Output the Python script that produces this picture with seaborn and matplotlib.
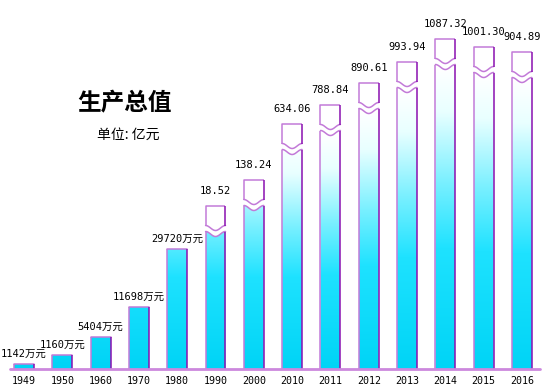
import matplotlib
matplotlib.use("Agg")
import matplotlib.pyplot as plt
import numpy as np
import pandas as pd
import seaborn as sns
from matplotlib.colors import LinearSegmentedColormap
from matplotlib.patches import Polygon

# data
years = ["1949", "1950", "1960", "1970", "1980", "1990", "2000",
         "2010", "2011", "2012", "2013", "2014", "2015", "2016"]
value_labels = ["1142万元", "1160万元", "5404万元", "11698万元", "29720万元",
                "18.52", "138.24", "634.06", "788.84", "890.61", "993.94",
                "1087.32", "1001.30", "904.89"]
# drawn bar heights (display units, the axis is broken so not proportional)
bar_heights = [5, 14, 32, 62, 120, 163, 189, 245, 264, 286, 307, 330, 322, 317]
broken = [False, False, False, False, False,
          True, True, True, True, True, True, True, True, True]

BOX = 22      # height of the white top box of a broken bar
GAP = 6       # gap between the two wavy lines
AMP = 2.5     # wave amplitude
EDGE_L = "#c27ad8"
EDGE_R = "#8a10b0"

sns.set_style("white")
plt.rcParams["font.family"] = ["DejaVu Sans Mono", "Noto Sans CJK SC"]

lower = [h - BOX - GAP if b else h for h, b in zip(bar_heights, broken)]
df = pd.DataFrame({"year": years, "height": lower})

fig = plt.figure(figsize=(5.53, 3.91), dpi=100)
ax = fig.add_axes([0, 22 / 391, 1, 369 / 391])

sns.barplot(data=df, x="year", y="height", order=years, width=0.52,
            color="#00d4f6", ax=ax)

cmap = LinearSegmentedColormap.from_list(
    "cy", [(0.0, "#00d4f6"), (0.4, "#1ee2ff"), (0.62, "#7af0ff"),
           (0.85, "#e8ffff"), (1.0, "#ffffff")])
grad = np.linspace(0, 1, 256).reshape(-1, 1)

t = np.linspace(0, 1, 30)
wave = AMP * np.cos(2 * np.pi * t)


def draw_outline(pts_left, pts_top, pts_right):
    ax.plot(*zip(*pts_left), color=EDGE_L, lw=1.1, zorder=4, solid_capstyle="butt")
    ax.plot(*zip(*pts_top), color=EDGE_L, lw=1.1, zorder=4)
    ax.plot(*zip(*pts_right), color=EDGE_R, lw=1.1, zorder=4, solid_capstyle="butt")


for i, patch in enumerate(list(ax.patches)):
    x0 = patch.get_x()
    w = patch.get_width()
    h = patch.get_height()
    patch.set_visible(False)
    xs = x0 + t * w
    if broken[i]:
        top_y = h + wave
    else:
        top_y = np.full_like(t, h)
    top = list(zip(xs, top_y))
    pts = [(x0, 0)] + top + [(x0 + w, 0)]
    poly = Polygon(pts, closed=True, facecolor="none", edgecolor="none", zorder=3)
    ax.add_patch(poly)
    img = ax.imshow(grad, extent=[x0, x0 + w, 0, max(h, 230)], origin="lower",
                    aspect="auto", cmap=cmap, zorder=2)
    img.set_clip_path(poly)
    draw_outline([(x0, 0), (x0, top_y[0])], top, [(x0 + w, top_y[-1]), (x0 + w, 0)])

    if broken[i]:
        hb = bar_heights[i]
        by = hb - BOX + wave
        box_pts = [(x0, hb), (x0 + w, hb)] + list(zip(xs[::-1], by[::-1]))
        ax.add_patch(Polygon(box_pts, closed=True, facecolor="white",
                             edgecolor="none", zorder=3))
        draw_outline([(x0, by[0]), (x0, hb), (x0 + w, hb)], list(zip(xs, by)),
                     [(x0 + w, hb), (x0 + w, by[-1])])

    ax.annotate(value_labels[i], (x0 + w / 2, bar_heights[i]),
                xytext=(0, 7 if broken[i] else 4), textcoords="offset points",
                ha="center", va="bottom", fontsize=7.5, color="black")

ax.set_xlim(-0.627, 13.81)
ax.set_ylim(0, 369)
ax.plot([-0.365, 13.47], [0, 0], color="#cc88dd", lw=2, zorder=5, clip_on=False)

for s in ax.spines.values():
    s.set_visible(False)
ax.set_yticks([])
ax.set_xlabel("")
ax.set_ylabel("")
ax.tick_params(axis="x", length=0, pad=5, labelsize=7.2, labelcolor="black")

fig.text(124 / 553, 1 - 103 / 391, "生产总值", ha="center", va="center",
         fontsize=17, fontweight="bold", color="black", family=["Noto Sans CJK SC"])
fig.text(128 / 553, 1 - 135 / 391, "单位: 亿元", ha="center", va="center",
         fontsize=10, color="black", family=["Noto Sans CJK SC"])

fig.savefig("out.png", dpi=100)
